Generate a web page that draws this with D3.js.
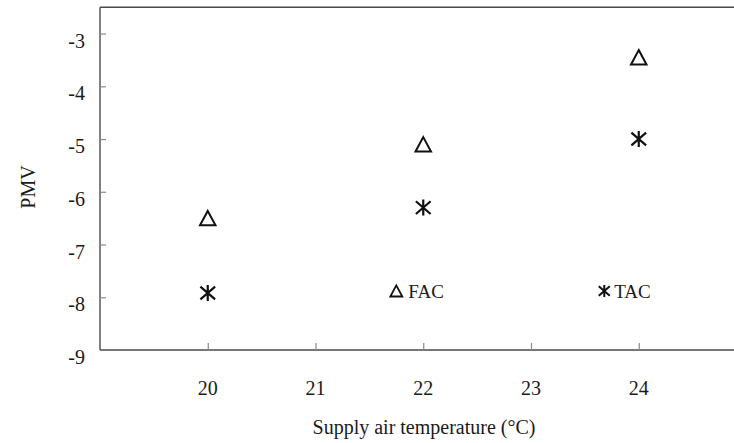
<!DOCTYPE html>
<html>
<head>
<meta charset="utf-8">
<script src="https://cdn.jsdelivr.net/npm/d3@7"></script>
<style>
  html, body { margin: 0; padding: 0; background: #fff; }
  svg { display: block; }
  text { font-family: "Liberation Serif", "Times New Roman", serif; fill: #1a1a1a; }
</style>
</head>
<body>
<svg id="chart" width="734" height="443"></svg>
<script>
// Supply air temperature (°C) and resulting PMV for the two air-conditioning modes
const temps = [20, 22, 24];
const facPMV = [-6.5, -5.1, -3.45];
const tacPMV = [-7.92, -6.3, -5.0];
const xTickValues = [20, 21, 22, 23, 24];
const yTickValues = [-9, -8, -7, -6, -5, -4, -3];
const seriesNames = ["FAC", "TAC"];
// legend anchor points, in data units
const legendX = [21.75, 23.68];
const legendY = [-7.88, -7.88];

const svg = d3.select("#chart");
const W = 734, H = 443;

const x = d3.scaleLinear().domain([19, 25]).range([100, 746.5]);
const y = d3.scaleLinear().domain([-9, -2.5]).range([350, 7.2]);

const axisColor = "#4a4a4a";

// frame: top border line
svg.append("line")
  .attr("x1", x(19)).attr("x2", W)
  .attr("y1", y(-2.5)).attr("y2", y(-2.5))
  .attr("stroke", axisColor).attr("stroke-width", 1.4);

// left axis line
svg.append("line")
  .attr("x1", x(19)).attr("x2", x(19))
  .attr("y1", y(-2.5)).attr("y2", y(-9))
  .attr("stroke", axisColor).attr("stroke-width", 1.4);

// bottom axis line
svg.append("line")
  .attr("x1", x(19)).attr("x2", W)
  .attr("y1", y(-9)).attr("y2", y(-9))
  .attr("stroke", axisColor).attr("stroke-width", 1.4);

// inward tick marks on the y axis
const yAxis = d3.axisRight(y).tickValues(yTickValues.filter(v => v > -9))
  .tickSize(6).tickFormat("");
svg.append("g").attr("transform", `translate(${x(19)},0)`).call(yAxis)
  .call(g => g.select(".domain").remove())
  .call(g => g.selectAll(".tick line").attr("stroke", "#8a8a8a").attr("stroke-width", 1.2));

// inward tick marks on the x axis
const xAxis = d3.axisTop(x).tickValues(xTickValues).tickSize(7).tickFormat("");
svg.append("g").attr("transform", `translate(0,${y(-9)})`).call(xAxis)
  .call(g => g.select(".domain").remove())
  .call(g => g.selectAll(".tick line").attr("stroke", "#8a8a8a").attr("stroke-width", 1.2));

// y tick labels
svg.append("g").selectAll("text").data(yTickValues).join("text")
  .attr("x", 85)
  .attr("y", d => y(d) + 7)
  .attr("text-anchor", "end")
  .attr("dominant-baseline", "central")
  .attr("font-size", 20)
  .text(d => d);

// x tick labels
svg.append("g").selectAll("text").data(xTickValues).join("text")
  .attr("x", d => x(d))
  .attr("y", 388)
  .attr("text-anchor", "middle")
  .attr("dominant-baseline", "central")
  .attr("font-size", 20)
  .text(d => d);

// axis titles
svg.append("text")
  .attr("transform", "translate(28,187) rotate(-90)")
  .attr("text-anchor", "middle")
  .attr("dominant-baseline", "central")
  .attr("font-size", 20)
  .text("PMV");

svg.append("text")
  .attr("x", 424)
  .attr("y", 427)
  .attr("text-anchor", "middle")
  .attr("dominant-baseline", "central")
  .attr("font-size", 20)
  .text("Supply air temperature (°C)");

// marker shapes
function triPath(s) {
  const w = s, h = s * 0.93;
  return `M0,${-h / 2}L${w / 2},${h / 2}L${-w / 2},${h / 2}Z`;
}
function starPath(s) {
  const r = s / 2, dx = s * 0.46, dy = s * 0.4;
  return `M0,${-r}L0,${r}M${-dx},${-dy}L${dx},${dy}M${-dx},${dy}L${dx},${-dy}`;
}

const fac = temps.map((t, i) => ({ t, v: facPMV[i] }));
const tac = temps.map((t, i) => ({ t, v: tacPMV[i] }));

svg.append("g").selectAll("path").data(fac).join("path")
  .attr("transform", d => `translate(${x(d.t)},${y(d.v)})`)
  .attr("d", triPath(15.5))
  .attr("fill", "none").attr("stroke", "#111").attr("stroke-width", 2)
  .attr("stroke-linejoin", "miter");

svg.append("g").selectAll("path").data(tac).join("path")
  .attr("transform", d => `translate(${x(d.t)},${y(d.v)})`)
  .attr("d", starPath(16))
  .attr("fill", "none").attr("stroke", "#111").attr("stroke-width", 2.2);

// in-plot legend
const legend = svg.append("g");
legend.append("path")
  .attr("transform", `translate(${x(legendX[0])},${y(legendY[0])})`)
  .attr("d", triPath(12))
  .attr("fill", "none").attr("stroke", "#111").attr("stroke-width", 1.8);
legend.append("text")
  .attr("x", x(legendX[0]) + 12)
  .attr("y", y(legendY[0]) + 1)
  .attr("dominant-baseline", "central")
  .attr("font-size", 19)
  .text(seriesNames[0]);

legend.append("path")
  .attr("transform", `translate(${x(legendX[1])},${y(legendY[1])})`)
  .attr("d", starPath(12))
  .attr("fill", "none").attr("stroke", "#111").attr("stroke-width", 2);
legend.append("text")
  .attr("x", x(legendX[1]) + 10)
  .attr("y", y(legendY[1]) + 1)
  .attr("dominant-baseline", "central")
  .attr("font-size", 19)
  .text(seriesNames[1]);
</script>
</body>
</html>
